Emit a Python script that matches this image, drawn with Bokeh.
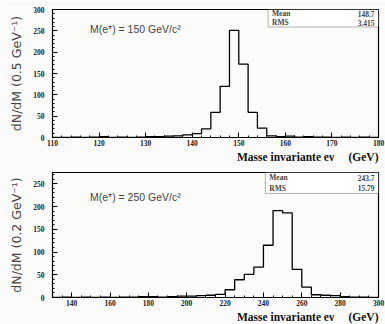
import numpy as np
from bokeh.plotting import figure
from bokeh.layouts import column
from bokeh.models import Range1d, SingleIntervalTicker, Label, BoxAnnotation, Title
from bokeh.embed import file_html
from bokeh.resources import INLINE

# ---- data ----
top_start, top_bin = 110, 2
top_counts = [0, 0, 1, 0, 1, 2, 0, 1, 0, 1, 2, 2, 3, 4, 6, 9, 20, 59, 120, 251,
              172, 59, 22, 4, 2, 3, 1, 2, 1, 1, 0, 1, 0, 1, 0]
top_mean, top_rms = "148.7", "3.415"
top_note = "M(e*) = 150 GeV/c²"
top_ylabel = "dN/dM (0.5 GeV⁻¹)"

bot_start, bot_bin = 130, 5
bot_counts = [0, 1, 0, 1, 0, 1, 0, 1, 1, 2, 2, 1, 2, 3, 3, 4, 5, 7, 17, 39, 51, 67,
              115, 191, 186, 62, 23, 6, 5, 4, 2, 1, 1, 0]
bot_mean, bot_rms = "243.7", "15.79"
bot_note = "M(e*) = 250 GeV/c²"
bot_ylabel = "dN/dM (0.2 GeV⁻¹)"

xlabel = "Masse invariante eν\u00a0\u00a0\u00a0\u00a0\u00a0(GeV)"

BG = "#fbfbf9"
TICK_FONT = "Liberation Serif"


def make_panel(start, binw, counts, xr, yr, xint, xminor, mean, rms, note, ylabel,
               height, bt, bb, box_left, box_bottom, box_div, note_y):
    p = figure(width=385, height=height, output_backend="svg", toolbar_location=None,
               x_range=Range1d(*xr), y_range=Range1d(*yr),
               min_border_left=52, min_border_right=7, min_border_top=bt,
               min_border_bottom=bb, background_fill_color=BG,
               border_fill_color=BG)
    p.xgrid.visible = False
    p.ygrid.visible = False
    p.outline_line_color = "black"
    p.outline_line_width = 1.2

    edges = start + binw * np.arange(len(counts) + 1)
    vals = list(counts) + [counts[-1]]
    p.step(edges, vals, mode="after", line_color="black", line_width=1.3)

    p.xaxis.ticker = SingleIntervalTicker(interval=xint, num_minor_ticks=xminor)
    p.yaxis.ticker = SingleIntervalTicker(interval=50, num_minor_ticks=5)
    for ax in (p.xaxis[0], p.yaxis[0]):
        ax.major_tick_in = 5
        ax.major_tick_out = 0
        ax.minor_tick_in = 2
        ax.minor_tick_out = 0
        ax.axis_line_color = "black"
        ax.major_label_text_font = TICK_FONT
        ax.major_label_text_font_style = "bold"
        ax.major_label_text_font_size = "7.5px"
        ax.major_label_text_color = "#222222"
    p.xaxis.major_label_standoff = 2
    p.yaxis.major_label_standoff = 8
    p.yaxis.axis_label = ylabel
    p.yaxis.axis_label_text_font = "DejaVu Sans"
    p.yaxis.axis_label_text_font_style = "normal"
    p.yaxis.axis_label_text_font_size = "12.5px"
    p.yaxis.axis_label_standoff = 6

    p.add_layout(Title(text=xlabel, align="right", text_font=TICK_FONT,
                       text_font_style="bold", text_font_size="11.5px",
                       standoff=0, offset=0, text_color="#111111"), "below")

    # stats box
    p.add_layout(BoxAnnotation(left=box_left, right=xr[1], bottom=box_bottom, top=yr[1],
                               fill_color="white", fill_alpha=1.0,
                               line_color="black", line_width=1))
    p.segment(x0=[box_left], x1=[xr[1]], y0=[box_div], y1=[box_div],
              line_color="black", line_width=1)
    rowh = (yr[1] - box_bottom) / 2
    for lab, val, yy in (("Mean", mean, yr[1] - rowh / 2), ("RMS", rms, box_bottom + rowh / 2)):
        p.add_layout(Label(x=box_left + (xr[1] - xr[0]) * 0.012, y=yy, text=lab,
                           text_font=TICK_FONT, text_font_style="bold",
                           text_font_size="7.5px", text_baseline="middle"))
        p.add_layout(Label(x=xr[1] - (xr[1] - xr[0]) * 0.012, y=yy, text=val,
                           text_font=TICK_FONT, text_font_style="bold",
                           text_font_size="7.5px", text_baseline="middle",
                           text_align="right"))

    p.add_layout(Label(x=xr[0] + (xr[1] - xr[0]) * 0.115, y=note_y, text=note,
                       text_font="Liberation Sans", text_font_size="10.5px",
                       text_baseline="middle"))
    return p


top = make_panel(top_start, top_bin, top_counts, (110, 180), (0, 300), 10, 5,
                 top_mean, top_rms, top_note, top_ylabel,
                 height=164, bt=9, bb=27, box_left=156.3, box_bottom=259, box_div=280,
                 note_y=255)
bot = make_panel(bot_start, bot_bin, bot_counts, (130, 300), (0, 275), 20, 4,
                 bot_mean, bot_rms, bot_note, bot_ylabel,
                 height=160, bt=8, bb=27, box_left=241, box_bottom=229, box_div=252,
                 note_y=222)

layout = column(top, bot, spacing=0)
open("out.html", "w").write(file_html(layout, INLINE))
